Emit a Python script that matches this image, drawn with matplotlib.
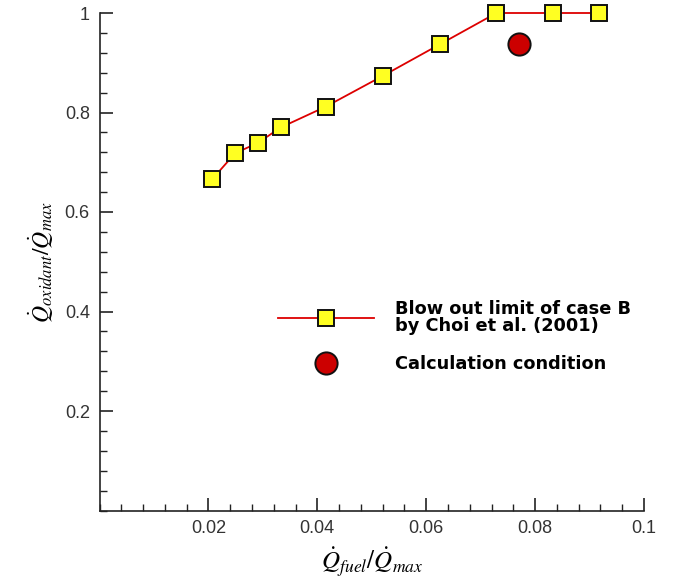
import matplotlib
matplotlib.use("Agg")
import matplotlib.pyplot as plt
from matplotlib.ticker import MultipleLocator, FuncFormatter

# Data
fuel_ratio = [0.0207, 0.0249, 0.0291, 0.0333, 0.0416, 0.0521, 0.0625, 0.0729, 0.0833, 0.0917]
oxidant_ratio = [0.666, 0.718, 0.739, 0.770, 0.812, 0.874, 0.937, 1.0, 1.0, 1.0]
calc_fuel = [0.0771]
calc_oxidant = [0.937]
series_labels = ["Blow out limit of case B\nby Choi et al. (2001)", "Calculation condition"]
x_ticks = [0.02, 0.04, 0.06, 0.08, 0.1]
y_ticks = [0.2, 0.4, 0.6, 0.8, 1.0]

plt.rcParams['font.family'] = ['Liberation Sans', 'DejaVu Sans']
plt.rcParams['mathtext.fontset'] = 'stix'

fig = plt.figure(figsize=(6.74, 5.88), dpi=100)
ax = fig.add_axes([99.5/674, 1-510.5/588, 544.5/674, 497.5/588])

ax.plot(fuel_ratio, oxidant_ratio, color='#dd0000', lw=1.3, marker='s', ms=11,
        mfc='#ffff22', mec='#111111', mew=1.4, clip_on=False, zorder=3,
        label=series_labels[0])
ax.plot(calc_fuel, calc_oxidant, linestyle='none', marker='o', ms=16,
        mfc='#cc0000', mec='#111111', mew=1.4, clip_on=False, zorder=3,
        label=series_labels[1])

ax.set_xlim(0, 0.1)
ax.set_ylim(0, 1)
ax.set_xticks(x_ticks)
ax.set_yticks(y_ticks)
ax.xaxis.set_minor_locator(MultipleLocator(0.004))
ax.yaxis.set_minor_locator(MultipleLocator(0.04))
fmt = FuncFormatter(lambda v, p: ('%g' % round(v, 4)))
ax.xaxis.set_major_formatter(fmt)
ax.yaxis.set_major_formatter(fmt)

for s in ['top', 'right']:
    ax.spines[s].set_visible(False)
for s in ['left', 'bottom']:
    ax.spines[s].set_linewidth(1.2)
    ax.spines[s].set_color('#222222')

ax.tick_params(which='major', direction='in', length=9.5, width=1.2, color='#222222',
               labelsize=13, labelcolor='#333333', pad=7)
ax.tick_params(which='minor', direction='in', length=5, width=1.0, color='#222222')

ax.set_xlabel(r'$\dot{Q}_{fuel}/\dot{Q}_{max}$', fontsize=18, labelpad=6)
ax.set_ylabel(r'$\dot{Q}_{oxidant}/\dot{Q}_{max}$', fontsize=17, labelpad=6)

leg = ax.legend(loc='upper left', bbox_to_anchor=((269-99.5)/544.5, 1-(291-13)/497.5),
                frameon=False, borderpad=0, handlelength=5.4, handletextpad=1.17,
                labelspacing=1.12,
                prop={'family': 'DejaVu Sans', 'weight': 'bold', 'size': 12.8})
for t in leg.get_texts():
    t.set_linespacing(0.95)

fig.savefig('out.png', dpi=100)
